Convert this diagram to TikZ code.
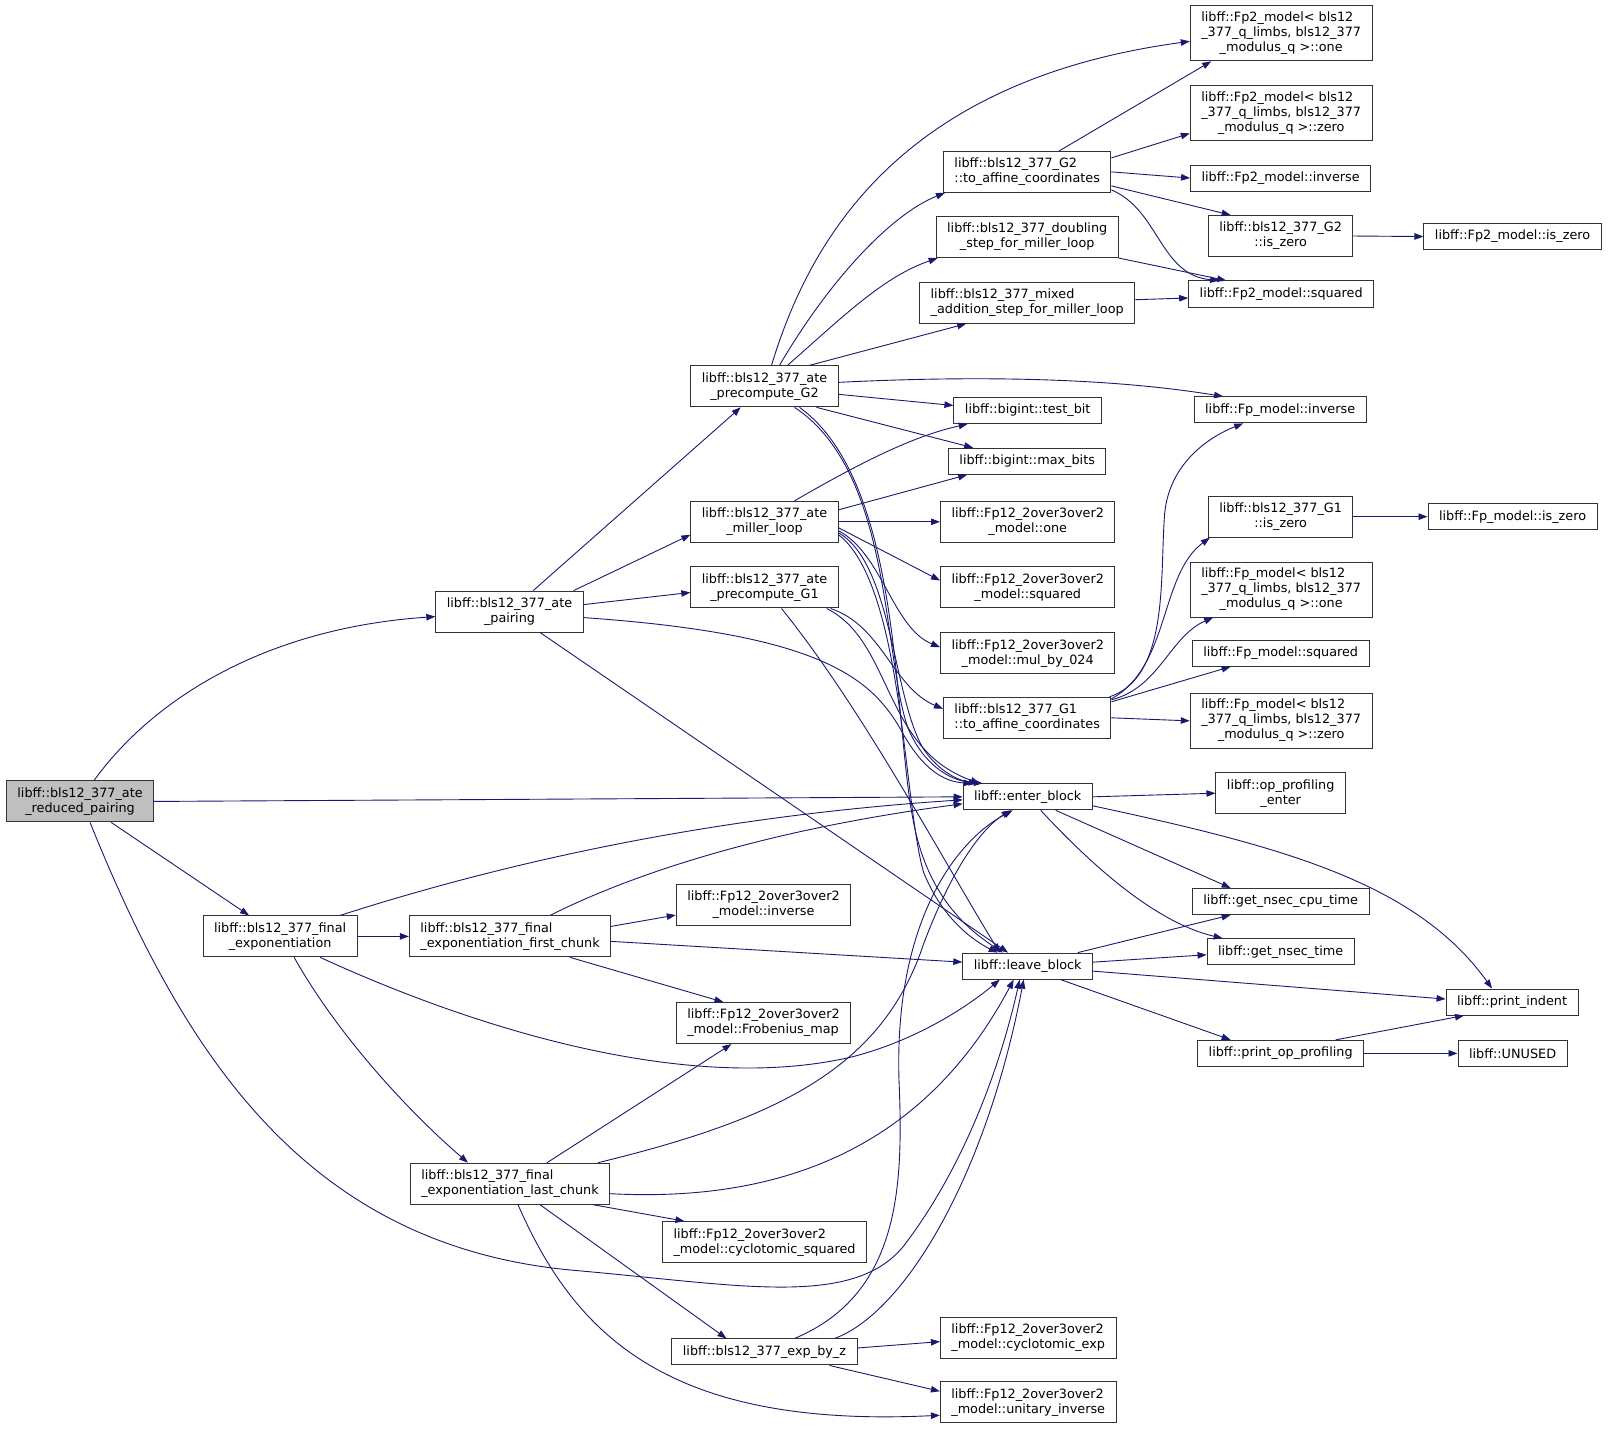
\documentclass[tikz,border=0pt]{standalone}
\usepackage{fontspec}
\setmainfont{DejaVu Sans}
\usepackage{tikz}
\usetikzlibrary{arrows.meta}
\definecolor{lineazul}{HTML}{191970}
\definecolor{grisnodo}{HTML}{BFBFBF}
\newcommand{\tresl}[3]{\begin{tabular}{@{}l@{}}#1\\#2\\\multicolumn{1}{@{}c@{}}{#3}\end{tabular}}

\begin{document}
\begin{tikzpicture}[x=1.026pt, y=-1.026pt, >={Triangle[length=9pt, width=6.5pt]}]
          % Definición de estilos para funciones y llamadas
          \tikzstyle{func} = [draw=black!80, line width=1pt, rectangle, fill=white, align=center, inner xsep=11pt, inner ysep=2pt, minimum height=41pt, font=\fontsize{12.8}{15}\selectfont]
          \tikzstyle{uno} = [minimum height=26pt]
          \tikzstyle{tres} = [minimum height=55pt]
          \tikzstyle{raiz} = [fill=grisnodo]
          \tikzstyle{call} = [->, draw=lineazul, line width=0.9pt]

          \useasboundingbox (0,0) rectangle (1567,1393);

          % Definición de nodos
          \node [func, raiz] (main) at (78,781) {libff::bls12\_377\_ate\\\_reduced\_pairing};
          \node [func] (pairing) at (496.5,596) {libff::bls12\_377\_ate\\\_pairing};
          \node [func] (finalexp) at (273,912.5) {libff::bls12\_377\_final\\\_exponentiation};
          \node [func] (preGtwo) at (745,376.5) {libff::bls12\_377\_ate\\\_precompute\_G2};
          \node [func] (miller) at (745,508.5) {libff::bls12\_377\_ate\\\_miller\_loop};
          \node [func] (preGone) at (745,572.5) {libff::bls12\_377\_ate\\\_precompute\_G1};
          \node [func, align=left] (firstchunk) at (497,912.5) {libff::bls12\_377\_final\\\_exponentiation\_first\_chunk};
          \node [func, align=left] (lastchunk) at (497,1153.5) {libff::bls12\_377\_final\\\_exponentiation\_last\_chunk};
          \node [func, uno] (expz) at (745,1317.5) {libff::bls12\_377\_exp\_by\_z};
          \node [func] (fxinv) at (744,882) {libff::Fp12\_2over3over2\\\_model::inverse};
          \node [func, align=left] (frob) at (744,997) {libff::Fp12\_2over3over2\\\_model::Frobenius\_map};
          \node [func, align=left] (cycsq) at (745,1210.5) {libff::Fp12\_2over3over2\\\_model::cyclotomic\_squared};
          \node [func, align=left] (gtwoaff) at (1001,167.5) {libff::bls12\_377\_G2\\::to\_affine\_coordinates};
          \node [func] (doubling) at (1001,231) {libff::bls12\_377\_doubling\\\_step\_for\_miller\_loop};
          \node [func, align=left] (mixed) at (1001,295) {libff::bls12\_377\_mixed\\\_addition\_step\_for\_miller\_loop};
          \node [func, uno] (testbit) at (1001.5,400) {libff::bigint::test\_bit};
          \node [func, uno] (maxbits) at (1001,449.5) {libff::bigint::max\_bits};
          \node [func] (fxone) at (1001.5,508.5) {libff::Fp12\_2over3over2\\\_model::one};
          \node [func] (fxsq) at (1001.5,572.5) {libff::Fp12\_2over3over2\\\_model::squared};
          \node [func] (fxmul) at (1001.5,636.5) {libff::Fp12\_2over3over2\\\_model::mul\_by\_024};
          \node [func, align=left] (goneaff) at (1001,699.5) {libff::bls12\_377\_G1\\::to\_affine\_coordinates};
          \node [func, uno] (enter) at (1001.5,776.5) {libff::enter\_block};
          \node [func, uno] (leave) at (1001.5,941.5) {libff::leave\_block};
          \node [func, align=left] (cycexp) at (1002,1303.5) {libff::Fp12\_2over3over2\\\_model::cyclotomic\_exp};
          \node [func, align=left] (unitinv) at (1002,1366.5) {libff::Fp12\_2over3over2\\\_model::unitary\_inverse};
          \node [func, tres] (ftwoone) at (1248.5,32.5) {\tresl{libff::Fp2\_model< bls12}{\_377\_q\_limbs, bls12\_377}{\_modulus\_q >::one}};
          \node [func, tres] (ftwozero) at (1248.5,110.5) {\tresl{libff::Fp2\_model< bls12}{\_377\_q\_limbs, bls12\_377}{\_modulus\_q >::zero}};
          \node [func, uno] (ftwoinv) at (1248,173.5) {libff::Fp2\_model::inverse};
          \node [func] (gtwoiszero) at (1248,230) {libff::bls12\_377\_G2\\::is\_zero};
          \node [func, uno] (ftwosq) at (1248.5,286.5) {libff::Fp2\_model::squared};
          \node [func, uno] (ftwoiszero) at (1474,230.5) {libff::Fp2\_model::is\_zero};
          \node [func, uno] (fpinv) at (1247.5,399.5) {libff::Fp\_model::inverse};
          \node [func] (goneiszero) at (1248,503.5) {libff::bls12\_377\_G1\\::is\_zero};
          \node [func, uno] (fpiszero) at (1474,503.5) {libff::Fp\_model::is\_zero};
          \node [func, tres] (fpone) at (1248.5,574.5) {\tresl{libff::Fp\_model< bls12}{\_377\_q\_limbs, bls12\_377}{\_modulus\_q >::one}};
          \node [func, uno] (fpsq) at (1248,636.5) {libff::Fp\_model::squared};
          \node [func, tres] (fpzero) at (1248.5,702.5) {\tresl{libff::Fp\_model< bls12}{\_377\_q\_limbs, bls12\_377}{\_modulus\_q >::zero}};
          \node [func] (openter) at (1248,773) {libff::op\_profiling\\\_enter};
          \node [func, uno] (cputime) at (1248,878.5) {libff::get\_nsec\_cpu\_time};
          \node [func, uno] (nsectime) at (1248,927.5) {libff::get\_nsec\_time};
          \node [func, uno] (printindent) at (1473.5,976.5) {libff::print\_indent};
          \node [func, uno] (printop) at (1248,1026.5) {libff::print\_op\_profiling};
          \node [func, uno] (unused) at (1474,1026.5) {libff::UNUSED};

          % Conexiones desde la raiz
          \draw [call] ([xshift=14]main.north) .. controls (150,680) and (260,612) .. ([yshift=-5]pairing.west);
          \draw [call] (main.east) -- (enter.west);
          \draw [call] (main) -- (finalexp);
          \draw [call] ([xshift=10]main.south) .. controls (180,1030) and (300,1215) .. (560,1238) .. controls (720,1252) and (830,1275) .. (880,1215) .. controls (930,1150) and (970,1060) .. ([xshift=-8]leave.south);

          % Conexiones de pairing y final_exponentiation
          \draw [call] (pairing) -- (preGtwo);
          \draw [call] ([xshift=-10]pairing.north east) -- ([yshift=8]miller.south west);
          \draw [call] ([yshift=7]pairing.east) -- ([yshift=-5]preGone.west);
          \draw [call] ([yshift=-6]pairing.east) .. controls (800,618) and (850,660) .. (880,715) .. controls (900,750) and (920,762) .. ([xshift=-55]enter.north);
          \draw [call] (pairing) -- (leave);
          \draw [call] (finalexp.east) -- (firstchunk.west);
          \draw [call] ([xshift=14]finalexp.south) .. controls (330,1010) and (400,1085) .. ([xshift=-42]lastchunk.north);
          \draw [call] ([xshift=60]finalexp.north) .. controls (500,838) and (700,795) .. ([yshift=-3]enter.west);
          \draw [call] ([xshift=40]finalexp.south) .. controls (480,1010) and (680,1065) .. (830,1030) .. controls (900,1012) and (950,975) .. ([xshift=-28]leave.south);

          % Conexiones de first_chunk y last_chunk
          \draw [call] ([xshift=40]firstchunk.north) .. controls (620,850) and (750,808) .. ([yshift=-7]enter.west);
          \draw [call] ([yshift=10]firstchunk.east) -- ([yshift=-10]fxinv.west);
          \draw [call] ([yshift=-5]firstchunk.east) -- ([yshift=4]leave.west);
          \draw [call] ([xshift=60]firstchunk.south) -- ([xshift=-40]frob.north);
          \draw [call] ([xshift=37]lastchunk.north) -- ([xshift=-32]frob.south);
          \draw [call] ([xshift=88]lastchunk.north) .. controls (760,1090) and (860,1040) .. (900,920) .. controls (930,840) and (960,805) .. ([xshift=-17]enter.south);
          \draw [call] ([yshift=-10]lastchunk.east) .. controls (760,1172) and (900,1120) .. ([xshift=-14]leave.south);
          \draw [call] ([xshift=83]lastchunk.south) -- ([xshift=-80]cycsq.north);
          \draw [call] ([xshift=30]lastchunk.south) -- ([xshift=-38]expz.north);
          \draw [call] ([xshift=8]lastchunk.south) .. controls (560,1300) and (650,1392) .. ([yshift=-13]unitinv.west);
          \draw [call] ([xshift=30]expz.north) .. controls (880,1260) and (880,1150) .. (876,1050) .. controls (872,900) and (930,820) .. ([xshift=-15]enter.south);
          \draw [call] ([xshift=70]expz.north) .. controls (880,1280) and (960,1150) .. ([xshift=-4]leave.south);
          \draw [call] ([yshift=4]expz.east) -- ([yshift=-4]cycexp.west);
          \draw [call] ([xshift=65]expz.south) -- ([yshift=11]unitinv.west);

          % Conexiones de precompute_G2
          \draw [call] ([xshift=7]preGtwo.north) .. controls (790,230) and (880,78) .. ([yshift=-8]ftwoone.west);
          \draw [call] ([xshift=15]preGtwo.north) .. controls (810,270) and (870,208) .. ([xshift=2]gtwoaff.south west);
          \draw [call] ([xshift=23]preGtwo.north) .. controls (820,310) and (860,270) .. ([xshift=2]doubling.south west);
          \draw [call] ([xshift=45]preGtwo.north) -- ([xshift=-61]mixed.south);
          \draw [call] ([yshift=4]preGtwo.east) .. controls (950,366) and (1080,368) .. ([xshift=-57]fpinv.north);
          \draw [call] ([yshift=-8]preGtwo.east) -- ([yshift=5]testbit.west);
          \draw [call] ([xshift=52]preGtwo.south) -- ([xshift=-54]maxbits.north);
          \draw [call] ([xshift=30]preGtwo.south) .. controls (870,460) and (860,640) .. (885,710) .. controls (900,745) and (925,760) .. ([xshift=-50]enter.north);
          \draw [call] ([xshift=35]preGtwo.south) .. controls (880,470) and (870,700) .. (890,800) .. controls (905,880) and (950,910) .. ([xshift=-25]leave.north);

          % Conexiones de miller_loop y precompute_G1
          \draw [call] ([xshift=30]miller.north) .. controls (840,450) and (890,425) .. ([xshift=-60]testbit.south);
          \draw [call] ([yshift=12]miller.east) -- ([xshift=-60]maxbits.south);
          \draw [call] (miller.east) -- (fxone.west);
          \draw [call] ([yshift=-6]miller.east) -- ([yshift=7]fxsq.west);
          \draw [call] ([yshift=-9]miller.east) .. controls (860,540) and (870,612) .. ([yshift=6]fxmul.west);
          \draw [call] ([yshift=-11]miller.east) .. controls (870,550) and (870,680) .. (900,730) .. controls (915,752) and (935,762) .. ([xshift=-45]enter.north);
          \draw [call] ([yshift=-13]miller.east) .. controls (880,570) and (880,780) .. (900,850) .. controls (920,900) and (955,920) .. ([xshift=-30]leave.north);
          \draw [call] ([xshift=-8]preGone.south east) .. controls (860,610) and (870,670) .. ([yshift=-12]goneaff.north west);
          \draw [call] ([xshift=-12]preGone.south east) .. controls (870,625) and (860,730) .. ([xshift=-48]enter.north);
          \draw [call] ([xshift=17]preGone.south) .. controls (840,690) and (920,840) .. ([xshift=-28]leave.north);

          % Conexiones de to_affine_coordinates
          \draw [call] ([xshift=32]gtwoaff.north) -- ([xshift=-70]ftwoone.south);
          \draw [call] ([yshift=14]gtwoaff.east) -- ([yshift=-20]ftwozero.west);
          \draw [call] (gtwoaff.east) -- (ftwoinv.west);
          \draw [call] ([yshift=-14]gtwoaff.east) -- ([xshift=-50]gtwoiszero.north);
          \draw [call] ([yshift=-18]gtwoaff.east) .. controls (1130,205) and (1130,268) .. ([xshift=-62]ftwosq.north);
          \draw [call] (doubling.south east) -- ([xshift=-55]ftwosq.north);
          \draw [call] ([yshift=3]mixed.east) -- ([yshift=-4]ftwosq.west);
          \draw [call] (gtwoiszero.east) -- (ftwoiszero.west);
          \draw [call] ([xshift=-2]goneaff.north east) .. controls (1140,660) and (1130,560) .. (1135,500) .. controls (1140,450) and (1180,425) .. ([xshift=-37]fpinv.south);
          \draw [call] ([yshift=-2]goneaff.north east) .. controls (1140,650) and (1130,560) .. ([xshift=2]goneiszero.south west);
          \draw [call] ([yshift=-3]goneaff.north east) .. controls (1130,670) and (1140,620) .. ([xshift=-68]fpone.south);
          \draw [call] ([yshift=-5]goneaff.north east) -- ([xshift=-50]fpsq.south);
          \draw [call] (goneaff.east) -- (fpzero.west);
          \draw [call] (goneiszero.east) -- (fpiszero.west);

          % Conexiones de enter_block y leave_block
          \draw [call] (enter.east) -- (openter.west);
          \draw [call] ([xshift=28]enter.south) -- ([xshift=-50]cputime.north);
          \draw [call] ([xshift=13]enter.south) .. controls (1070,850) and (1130,900) .. ([xshift=-58]nsectime.north);
          \draw [call] ([yshift=-9]enter.east) .. controls (1250,825) and (1380,860) .. ([xshift=-20]printindent.north);
          \draw [call] ([xshift=50]leave.north) -- ([xshift=-50]cputime.south);
          \draw [call] ([yshift=4]leave.east) -- ([yshift=-3]nsectime.west);
          \draw [call] ([yshift=-5]leave.east) -- ([yshift=3]printindent.west);
          \draw [call] ([xshift=33]leave.south) -- ([xshift=-50]printop.north);
          \draw [call] ([xshift=55]printop.north) -- ([xshift=-48]printindent.south);
          \draw [call] (printop.east) -- (unused.west);
        \end{tikzpicture}
\end{document}
